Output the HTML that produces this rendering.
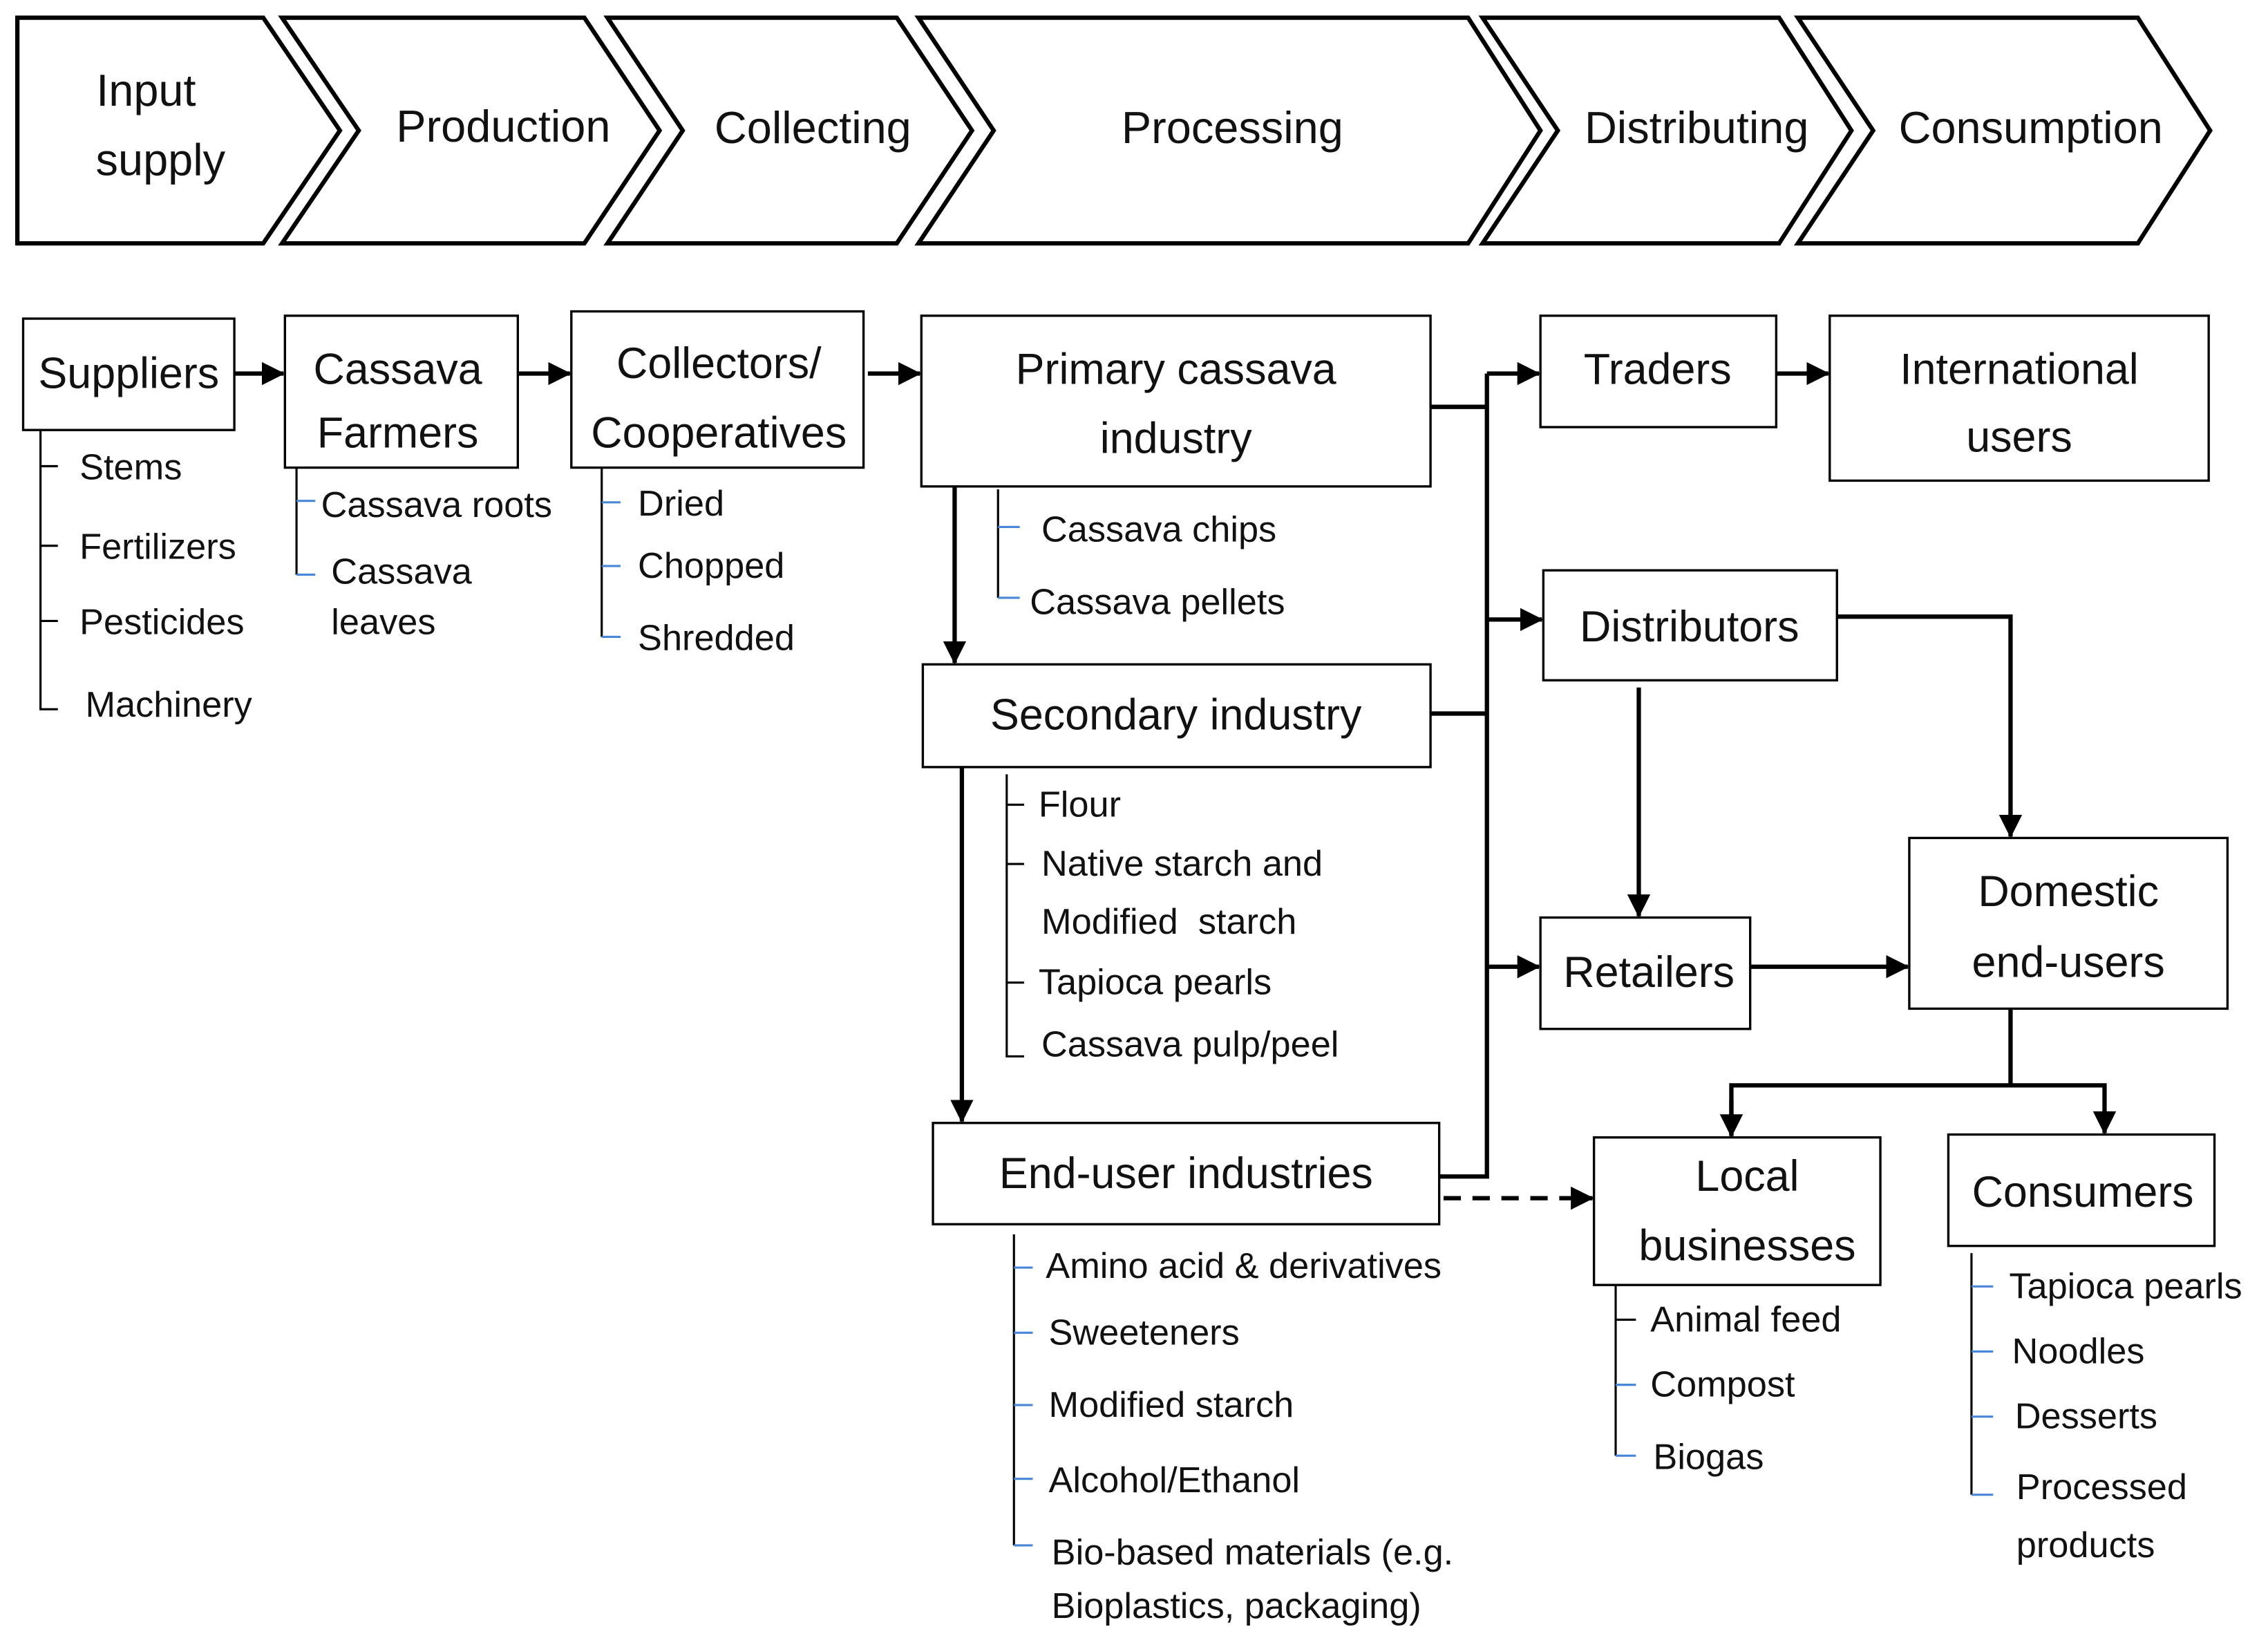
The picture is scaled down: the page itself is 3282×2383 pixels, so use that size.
<!DOCTYPE html>
<html><head><meta charset="utf-8"><style>
html,body{margin:0;padding:0;background:#fff;}
svg{display:block;}
text{font-family:"Liberation Sans",sans-serif;fill:#111;}
.b{font-size:30px;text-anchor:middle;dominant-baseline:central;}
.h{font-size:31px;text-anchor:middle;dominant-baseline:central;}
.i{font-size:25px;dominant-baseline:central;}
</style></head><body>
<svg width="3282" height="2383" viewBox="0 0 1568 1138" xmlns="http://www.w3.org/2000/svg">
<defs>
<marker id="ab" markerWidth="16" markerHeight="16" refX="15" refY="8" orient="auto" markerUnits="userSpaceOnUse"><path d="M0,0 L16,8 L0,16 z" fill="#000"/></marker></defs>
<g fill="#fff" stroke="#000" stroke-width="3">
<polygon points="12,12 182,12 235,90 182,168 12,168"/>
<polygon points="195,12 404,12 456,90 404,168 195,168 248,90"/>
<polygon points="420,12 620,12 672,90 620,168 420,168 472,90"/>
<polygon points="635,12 1015,12 1065,90 1015,168 635,168 687,90"/>
<polygon points="1025,12 1230,12 1280,90 1230,168 1025,168 1077,90"/>
<polygon points="1243,12 1478,12 1528,90 1478,168 1243,168 1295,90"/>
</g>
<text class="h" x="101" y="62">Input</text><text class="h" x="111" y="110">supply</text>
<text class="h" x="348" y="87">Production</text>
<text class="h" x="562" y="88">Collecting</text>
<text class="h" x="852" y="88">Processing</text>
<text class="h" x="1173" y="88">Distributing</text>
<text class="h" x="1404" y="88">Consumption</text>
<g fill="#fff" stroke="#000" stroke-width="1.6">
<rect x="16" y="220" width="146" height="77"/>
<rect x="197" y="218" width="161" height="105"/>
<rect x="395" y="215" width="202" height="108"/>
<rect x="637" y="218" width="352" height="118"/>
<rect x="638" y="459" width="351" height="71"/>
<rect x="645" y="776" width="350" height="70"/>
<rect x="1065" y="218" width="163" height="77"/>
<rect x="1265" y="218" width="262" height="114"/>
<rect x="1067" y="394" width="203" height="76"/>
<rect x="1065" y="634" width="145" height="77"/>
<rect x="1320" y="579" width="220" height="118"/>
<rect x="1102" y="786" width="198" height="102"/>
<rect x="1347" y="784" width="184" height="77"/>
</g>
<text class="b" x="89" y="258">Suppliers</text>
<text class="b" x="275" y="255">Cassava</text><text class="b" x="275" y="299">Farmers</text>
<text class="b" x="497" y="251">Collectors/</text><text class="b" x="497" y="299">Cooperatives</text>
<text class="b" x="813" y="255">Primary cassava</text><text class="b" x="813" y="303">industry</text>
<text class="b" x="813" y="494">Secondary industry</text>
<text class="b" x="820" y="811">End-user industries</text>
<text class="b" x="1146" y="255">Traders</text>
<text class="b" x="1396" y="255">International</text><text class="b" x="1396" y="302">users</text>
<text class="b" x="1168" y="433">Distributors</text>
<text class="b" x="1140" y="672">Retailers</text>
<text class="b" x="1430" y="616">Domestic</text><text class="b" x="1430" y="665">end-users</text>
<text class="b" x="1208" y="813">Local</text><text class="b" x="1208" y="861">businesses</text>
<text class="b" x="1440" y="824">Consumers</text>
<g stroke="#000" stroke-width="3" fill="none">
<line x1="162" y1="258" x2="196" y2="258" marker-end="url(#ab)"/>
<line x1="358" y1="258" x2="394" y2="258" marker-end="url(#ab)"/>
<line x1="600" y1="258" x2="636" y2="258" marker-end="url(#ab)"/>
<line x1="660" y1="336" x2="660" y2="458" marker-end="url(#ab)"/>
<line x1="665" y1="530" x2="665" y2="775" marker-end="url(#ab)"/>
<polyline points="989,281 1028,281"/>
<polyline points="989,493 1028,493"/>
<polyline points="995,813 1028,813 1028,258"/>
<line x1="1028" y1="258" x2="1064" y2="258" marker-end="url(#ab)"/>
<line x1="1028" y1="428" x2="1066" y2="428" marker-end="url(#ab)"/>
<line x1="1028" y1="668" x2="1064" y2="668" marker-end="url(#ab)"/>
<line x1="1228" y1="258" x2="1264" y2="258" marker-end="url(#ab)"/>
<polyline points="1270,426 1390,426 1390,578" marker-end="url(#ab)"/>
<line x1="1133" y1="475" x2="1133" y2="633" marker-end="url(#ab)"/>
<line x1="1210" y1="668" x2="1319" y2="668" marker-end="url(#ab)"/>
<polyline points="1390,697 1390,750"/>
<polyline points="1197,785 1197,750 1455,750 1455,783" marker-end="url(#ab)"/>
<line x1="1197" y1="760" x2="1197" y2="785" marker-end="url(#ab)"/>
<line x1="998" y1="828" x2="1101" y2="828" stroke-dasharray="12,8" marker-end="url(#ab)"/>
</g>
<g stroke="#000" stroke-width="1.5" fill="none">
<polyline points="28,297 28,490 40,490"/><line x1="28" y1="322" x2="40" y2="322"/><line x1="28" y1="377" x2="40" y2="377"/><line x1="28" y1="429" x2="40" y2="429"/>
<line x1="205" y1="323" x2="205" y2="397"/>
<line x1="416" y1="323" x2="416" y2="440"/>
<line x1="690" y1="338" x2="690" y2="413"/>
<polyline points="696,535 696,730 708,730"/><line x1="696" y1="556" x2="708" y2="556"/><line x1="696" y1="597" x2="708" y2="597"/><line x1="696" y1="679" x2="708" y2="679"/>
<line x1="701" y1="853" x2="701" y2="1068"/>
<line x1="1117" y1="888" x2="1117" y2="1006"/><line x1="1117" y1="912" x2="1131" y2="912"/>
<line x1="1363" y1="866" x2="1363" y2="1033"/>
</g>
<g stroke="#4a86d8" stroke-width="1.5">
<line x1="205" y1="346" x2="218" y2="346"/><line x1="205" y1="397" x2="218" y2="397"/>
<line x1="416" y1="347" x2="429" y2="347"/><line x1="416" y1="391" x2="429" y2="391"/><line x1="416" y1="440" x2="429" y2="440"/>
<line x1="690" y1="364" x2="705" y2="364"/><line x1="690" y1="413" x2="705" y2="413"/>
<line x1="701" y1="876" x2="714" y2="876"/><line x1="701" y1="921" x2="714" y2="921"/><line x1="701" y1="971" x2="714" y2="971"/><line x1="701" y1="1022" x2="714" y2="1022"/><line x1="701" y1="1068" x2="714" y2="1068"/>
<line x1="1117" y1="957" x2="1131" y2="957"/><line x1="1117" y1="1006" x2="1131" y2="1006"/>
<line x1="1363" y1="889" x2="1378" y2="889"/><line x1="1363" y1="934" x2="1378" y2="934"/><line x1="1363" y1="979" x2="1378" y2="979"/><line x1="1363" y1="1033" x2="1378" y2="1033"/>
</g>
<text class="i" x="55" y="323">Stems</text><text class="i" x="55" y="378">Fertilizers</text><text class="i" x="55" y="430">Pesticides</text><text class="i" x="59" y="487">Machinery</text>
<text class="i" x="222" y="349">Cassava roots</text><text class="i" x="229" y="395">Cassava</text><text class="i" x="229" y="430">leaves</text>
<text class="i" x="441" y="348">Dried</text><text class="i" x="441" y="391">Chopped</text><text class="i" x="441" y="441">Shredded</text>
<text class="i" x="720" y="366">Cassava chips</text><text class="i" x="712" y="416">Cassava pellets</text>
<text class="i" x="718" y="556">Flour</text><text class="i" x="720" y="597">Native starch and</text><text class="i" x="720" y="637">Modified&#160;&#160;starch</text><text class="i" x="718" y="679">Tapioca pearls</text><text class="i" x="720" y="722">Cassava pulp/peel</text>
<text class="i" x="723" y="875">Amino acid &amp; derivatives</text><text class="i" x="725" y="921">Sweeteners</text><text class="i" x="725" y="971">Modified starch</text><text class="i" x="725" y="1023">Alcohol/Ethanol</text><text class="i" x="727" y="1073">Bio-based materials (e.g.</text><text class="i" x="727" y="1110">Bioplastics, packaging)</text>
<text class="i" x="1141" y="912">Animal feed</text><text class="i" x="1141" y="957">Compost</text><text class="i" x="1143" y="1007">Biogas</text>
<text class="i" x="1389" y="889">Tapioca pearls</text><text class="i" x="1391" y="934">Noodles</text><text class="i" x="1393" y="979">Desserts</text><text class="i" x="1394" y="1028">Processed</text><text class="i" x="1394" y="1068">products</text>
</svg>
</body></html>
